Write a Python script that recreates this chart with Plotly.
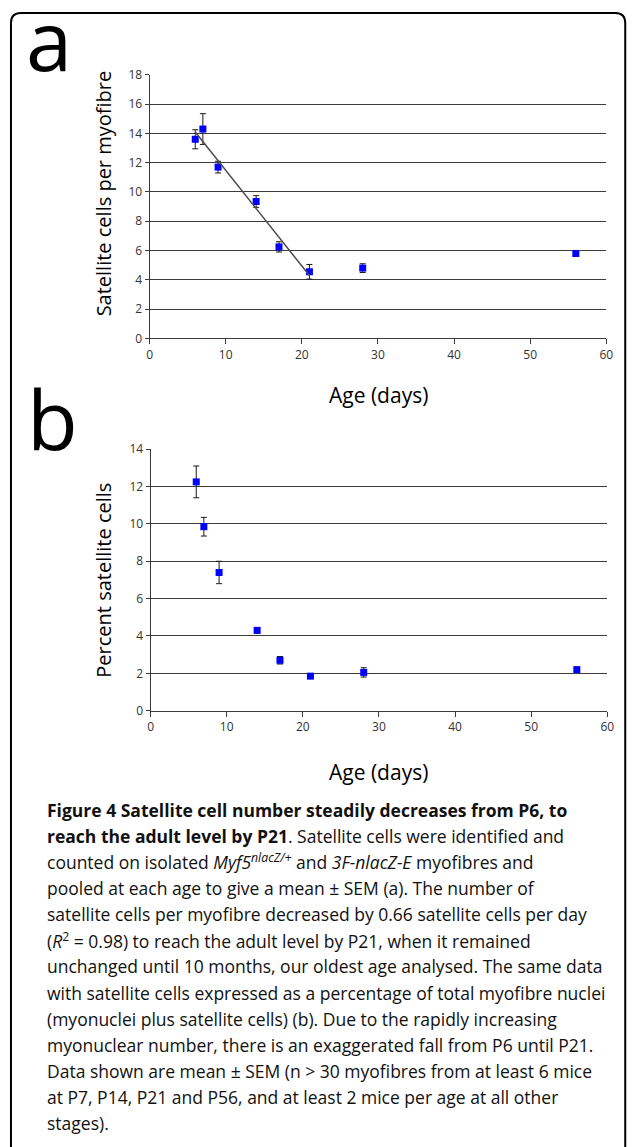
import numpy as np
import plotly.graph_objects as go

W, H = 633, 1147

# ---- data ----
age_days = [6, 7, 9, 14, 17, 21, 28, 56]
cells_per_fibre = [13.6, 14.3, 11.7, 9.35, 6.25, 4.55, 4.8, 5.8]
cells_per_fibre_sem = [0.65, 1.05, 0.4, 0.4, 0.35, 0.5, 0.3, 0.15]
percent_sat = [12.25, 9.85, 7.4, 4.3, 2.7, 1.85, 2.05, 2.2]
percent_sat_sem = [0.85, 0.5, 0.6, 0.15, 0.2, 0.1, 0.25, 0.1]
trend_max_age = 21

x_ticks = [0, 10, 20, 30, 40, 50, 60]
ya_ticks = [0, 2, 4, 6, 8, 10, 12, 14, 16, 18]
yb_ticks = [0, 2, 4, 6, 8, 10, 12, 14]

caption_lines = [
    "<b>Figure 4 Satellite cell number steadily decreases from P6, to</b>",
    "<b>reach the adult level by P21</b>. Satellite cells were identified and",
    "counted on isolated <i>Myf5</i><sup><i>nlacZ/+</i></sup> and <i>3F-nlacZ-E</i> myofibres and",
    "pooled at each age to give a mean \u00b1 SEM (a). The number of",
    "satellite cells per myofibre decreased by 0.66 satellite cells per day",
    "(<i>R</i><sup>2</sup> = 0.98) to reach the adult level by P21, when it remained",
    "unchanged until 10 months, our oldest age analysed. The same data",
    "with satellite cells expressed as a percentage of total myofibre nuclei",
    "(myonuclei plus satellite cells) (b). Due to the rapidly increasing",
    "myonuclear number, there is an exaggerated fall from P6 until P21.",
    "Data shown are mean \u00b1 SEM (n > 30 myofibres from at least 6 mice",
    "at P7, P14, P21 and P56, and at least 2 mice per age at all other",
    "stages).",
]

# ---- helpers: map target-picture pixels to paper coordinates ----
S = 0.987      # observed capture scale
OFFY = 8       # observed capture top offset

def px(x):
    return (x / S) / W

def py(y):
    return 1 - ((y - OFFY) / S) / H

fig = go.Figure()

MARK = "#0000FF"
ERR = "#1a1a1a"
GRID = "#3c3c3c"
TICKC = "#333333"
FONT = "Open Sans"

# panel a
fig.add_trace(go.Scatter(
    x=age_days, y=cells_per_fibre, mode="markers",
    marker=dict(symbol="square", size=7, color=MARK, line=dict(width=0)),
    error_y=dict(type="data", array=cells_per_fibre_sem, visible=True,
                 color=ERR, thickness=1, width=3),
    xaxis="x", yaxis="y", showlegend=False, cliponaxis=False))

# trend line (linear fit up to P21)
xa = np.array(age_days, dtype=float)
ya = np.array(cells_per_fibre, dtype=float)
mask = xa <= trend_max_age
slope, intercept = np.polyfit(xa[mask], ya[mask], 1)
tx = np.array([xa[mask].min(), xa[mask].max()])
fig.add_trace(go.Scatter(
    x=tx, y=slope * tx + intercept, mode="lines",
    line=dict(color="#4a4a4a", width=1.5),
    xaxis="x", yaxis="y", showlegend=False))

# panel b
fig.add_trace(go.Scatter(
    x=age_days, y=percent_sat, mode="markers",
    marker=dict(symbol="square", size=7, color=MARK, line=dict(width=0)),
    error_y=dict(type="data", array=percent_sat_sem, visible=True,
                 color=ERR, thickness=1, width=3),
    xaxis="x2", yaxis="y2", showlegend=False, cliponaxis=False))

axis_common = dict(
    showline=True, linecolor=GRID, linewidth=1,
    ticks="outside", tickcolor=GRID, tickwidth=1,
    tickfont=dict(family=FONT, size=12, color=TICKC),
    zeroline=False, fixedrange=True,
)

fig.update_layout(
    width=W, height=H,
    margin=dict(l=0, r=0, t=0, b=0),
    paper_bgcolor="white", plot_bgcolor="white",
    showlegend=False,
    xaxis=dict(domain=[px(147), px(605)], range=[0, 60], tickvals=x_ticks,
               showgrid=False, ticklen=5, anchor="y", **axis_common),
    yaxis=dict(domain=[py(338), py(74)], range=[0, 18], tickvals=ya_ticks,
               showgrid=True, gridcolor=GRID, gridwidth=1, ticklen=4,
               anchor="x", **axis_common),
    xaxis2=dict(domain=[px(148), px(606)], range=[0, 60], tickvals=x_ticks,
                showgrid=False, ticklen=5, anchor="y2", **axis_common),
    yaxis2=dict(domain=[py(711), py(449)], range=[0, 14], tickvals=yb_ticks,
                showgrid=True, gridcolor=GRID, gridwidth=1, ticklen=4,
                anchor="x2", **axis_common),
)

ann = []
# panel letters
ann.append(dict(text="a", x=px(21), y=py(96), xref="paper", yref="paper",
                xanchor="left", yanchor="bottom", showarrow=False,
                font=dict(family=FONT, size=83, color="black")))
ann.append(dict(text="b", x=px(22), y=py(476), xref="paper", yref="paper",
                xanchor="left", yanchor="bottom", showarrow=False,
                font=dict(family=FONT, size=83, color="black")))
# axis titles
ann.append(dict(text="Satellite cells per myofibre", x=px(101), y=py(193),
                xref="paper", yref="paper", textangle=-90, showarrow=False,
                xanchor="center", yanchor="middle",
                font=dict(family=FONT, size=20, color="black")))
ann.append(dict(text="Age (days)", x=px(377), y=py(395),
                xref="paper", yref="paper", showarrow=False,
                xanchor="center", yanchor="middle",
                font=dict(family=FONT, size=21, color="black")))
ann.append(dict(text="Percent satellite cells", x=px(101), y=py(580),
                xref="paper", yref="paper", textangle=-90, showarrow=False,
                xanchor="center", yanchor="middle",
                font=dict(family=FONT, size=20, color="black")))
ann.append(dict(text="Age (days)", x=px(377), y=py(772),
                xref="paper", yref="paper", showarrow=False,
                xanchor="center", yanchor="middle",
                font=dict(family=FONT, size=21, color="black")))
# caption lines
for i, line in enumerate(caption_lines):
    ann.append(dict(text=line, x=px(42), y=py(810 + 26.2 * i),
                    xref="paper", yref="paper", xanchor="left",
                    yanchor="middle", showarrow=False, align="left",
                    font=dict(family=FONT, size=17.5, color="#111111")))
fig.update_layout(annotations=ann)

# rounded border frame
L, T, R, B, r = 8, 12, 624, 1170, 10
path = (f"M {px(L)} {py(B)} L {px(L)} {py(T + r)} "
        f"Q {px(L)} {py(T)} {px(L + r)} {py(T)} "
        f"L {px(R - r)} {py(T)} Q {px(R)} {py(T)} {px(R)} {py(T + r)} "
        f"L {px(R)} {py(B)}")
fig.add_shape(type="path", path=path, xref="paper", yref="paper",
              line=dict(color="black", width=2))

pin_page = (
    "document.documentElement.style.margin='0px';"
    "document.body.style.margin='0px';"
    "document.body.style.padding='0px';"
    "var gd=document.getElementById('{plot_id}');"
    "gd.style.position='fixed';gd.style.left='0px';gd.style.top='0px';"
)
fig.write_html("out.html", config={"displayModeBar": False},
               post_script=pin_page)
